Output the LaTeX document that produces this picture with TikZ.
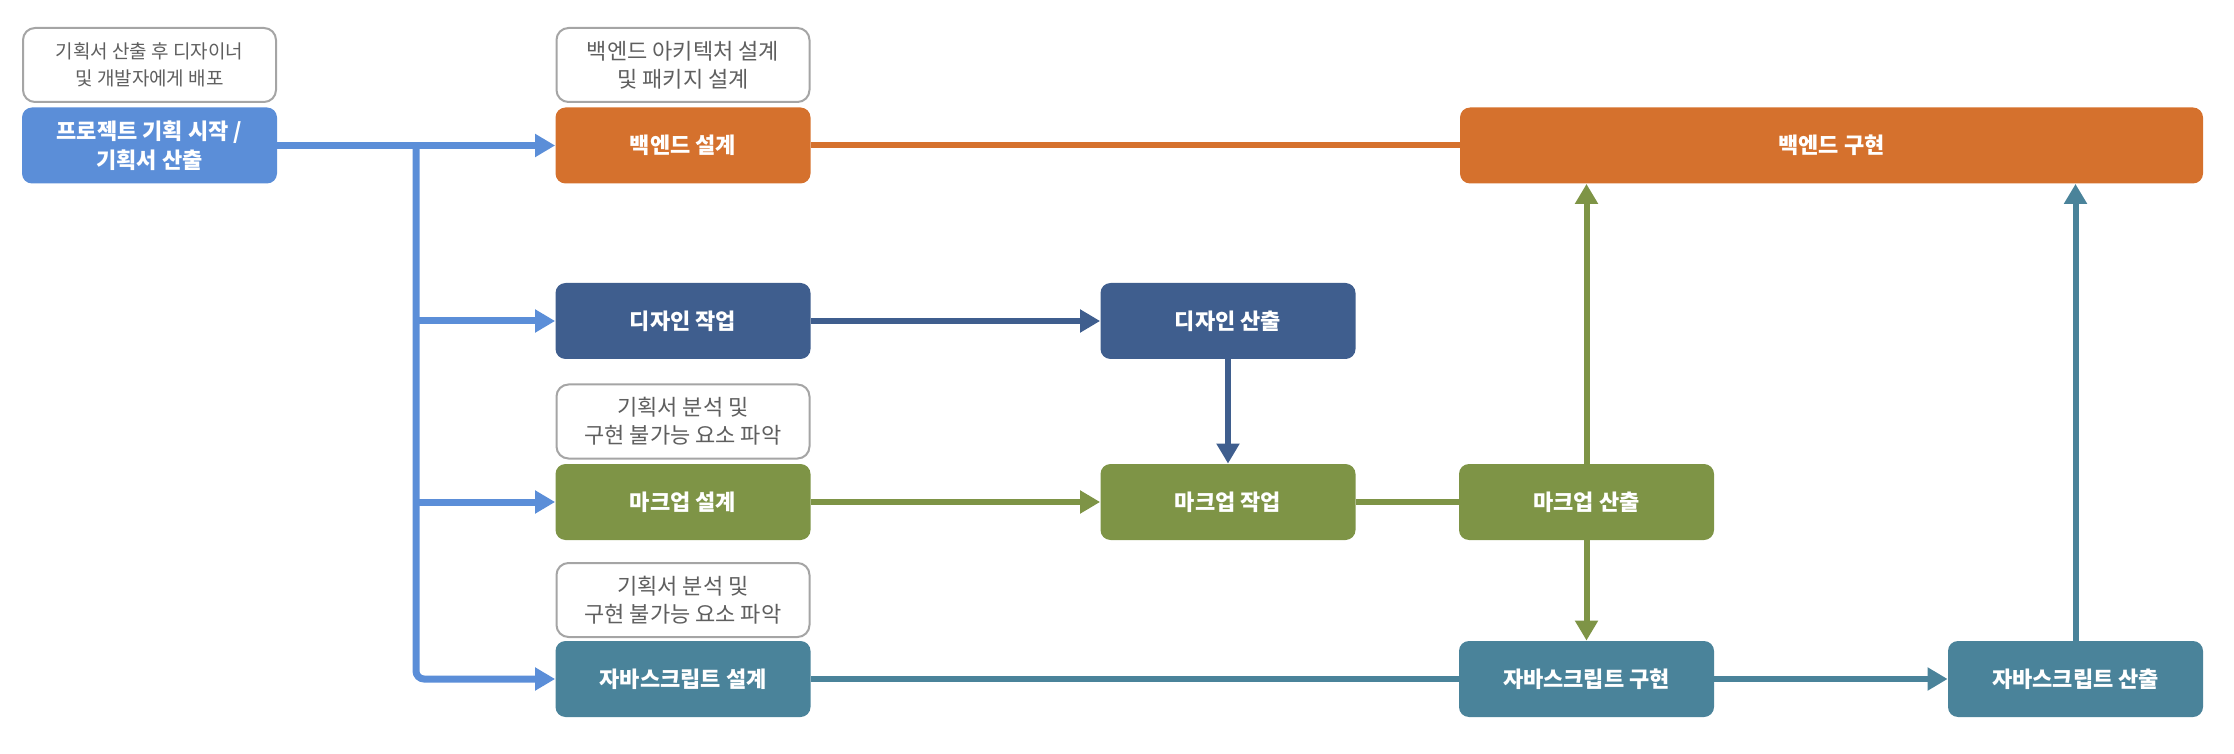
\documentclass[tikz,border=0pt]{standalone}
\usepackage{fontspec}
\setmainfont{Noto Sans CJK KR}
\usetikzlibrary{arrows.meta}
\definecolor{cstart}{RGB}{91,142,216}
\definecolor{corange}{RGB}{213,113,45}
\definecolor{cdblue}{RGB}{63,94,142}
\definecolor{cgreen}{RGB}{126,148,70}
\definecolor{cteal}{RGB}{74,131,154}
\definecolor{cnoteborder}{RGB}{165,165,165}
\definecolor{cnotetext}{RGB}{95,95,95}
\begin{document}
\begin{tikzpicture}[x=0.5pt,y=-0.5pt,
  box/.style={rounded corners=5pt, minimum width=127.5pt, minimum height=38pt, inner sep=0pt,
    text=white, font=\fontsize{11}{14.5}\selectfont\bfseries, align=center},
  note/.style={draw=cnoteborder, line width=1pt, rounded corners=6pt, minimum width=126.5pt,
    minimum height=37pt, inner sep=0pt, text=cnotetext, fill=white,
    font=\fontsize{11}{14}\selectfont, align=center},
  link/.style={line width=3pt},
  arr/.style={line width=3pt, -{Triangle[length=10pt,width=11pt]}},
  trunk/.style={line width=3.5pt, cstart},
]
\useasboundingbox (0,0) rectangle (2234,754);

\node[note, font=\fontsize{9.5}{13.5}\selectfont] (n1) at (149.5,65) {기획서 산출 후 디자이너\\및 개발자에게 배포};
\node[box, fill=cstart] (start) at (149.5,145.5) {프로젝트 기획 시작 /\\기획서 산출};
\node[note] (n2) at (683,65) {백엔드 아키텍처 설계\\및 패키지 설계};
\node[box, fill=corange] (bd) at (683,145.5) {백엔드 설계};
\node[box, fill=cdblue] (dw) at (683,321) {디자인 작업};
\node[note] (n3) at (683,421.5) {기획서 분석 및\\구현 불가능 요소 파악};
\node[box, fill=cgreen] (md) at (683,502) {마크업 설계};
\node[note] (n4) at (683,600) {기획서 분석 및\\구현 불가능 요소 파악};
\node[box, fill=cteal] (jd) at (683,679) {자바스크립트 설계};
\node[box, fill=cdblue] (dout) at (1228,321) {디자인 산출};
\node[box, fill=cgreen] (mw) at (1228,502) {마크업 작업};
\node[box, fill=cgreen] (mo) at (1586.5,502) {마크업 산출};
\node[box, fill=corange, minimum width=371.5pt] (bi) at (1831.5,145.5) {백엔드 구현};
\node[box, fill=cteal] (ji) at (1586.5,679) {자바스크립트 구현};
\node[box, fill=cteal] (jo) at (2075.5,679) {자바스크립트 산출};

\coordinate (j) at (416,145.5);
\draw[trunk] (start.east) -- (j);
\draw[trunk, -{Triangle[length=10pt,width=11pt]}] (j) -- (bd.west);
\draw[trunk, rounded corners=4pt, -{Triangle[length=10pt,width=11pt]}] (j) |- (jd.west);
\draw[trunk, -{Triangle[length=10pt,width=11pt]}] (j |- dw.west) -- (dw.west);
\draw[trunk, -{Triangle[length=10pt,width=11pt]}] (j |- md.west) -- (md.west);

\draw[link, corange] (bd.east) -- (bi.west);
\draw[arr, cdblue] (dw.east) -- (dout.west);
\draw[arr, cdblue] (dout.south) -- (mw.north);
\draw[arr, cgreen] (md.east) -- (mw.west);
\draw[link, cgreen] (mw.east) -- (mo.west);
\draw[arr, cgreen] (mo.north) -- (mo.north |- bi.south);
\draw[arr, cgreen] (mo.south) -- (ji.north);
\draw[link, cteal] (jd.east) -- (ji.west);
\draw[arr, cteal] (ji.east) -- (jo.west);
\draw[arr, cteal] (jo.north) -- (jo.north |- bi.south);
\end{tikzpicture}
\end{document}
